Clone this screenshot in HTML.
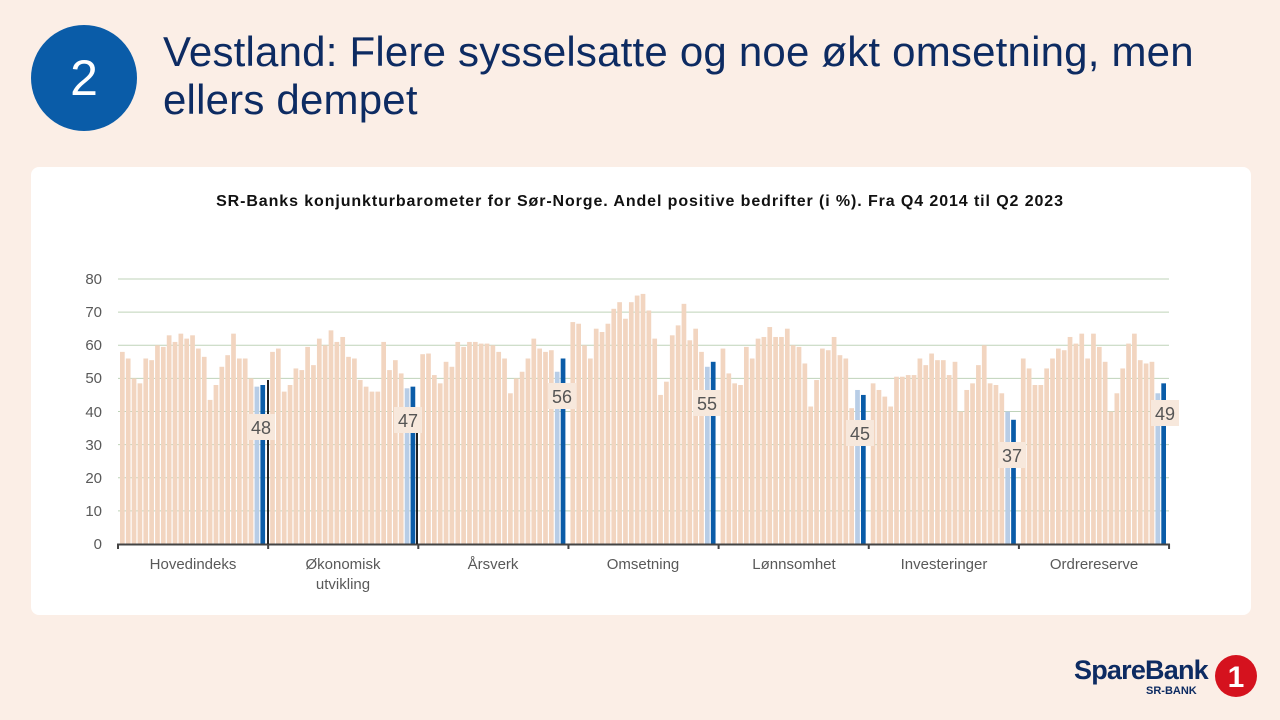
<!DOCTYPE html>
<html><head><meta charset="utf-8"><style>
body{margin:0;width:1280px;height:720px;background:#fbeee6;font-family:"Liberation Sans",sans-serif;overflow:hidden;position:relative}
.circ{position:absolute;left:31px;top:25px;width:106px;height:106px;border-radius:50%;background:#0a5ca8;color:#fff;font-size:50px;text-align:center;line-height:106px}
.h{position:absolute;left:163px;top:28px;font-size:42px;line-height:48px;color:#0d2b62;letter-spacing:0.2px}
.card{position:absolute;left:31px;top:167px;width:1220px;height:448px;background:#fff;border-radius:8px}
</style></head><body>
<div class="circ">2</div>
<div class="h">Vestland: Flere sysselsatte og noe økt omsetning, men<br>ellers dempet</div>
<div class="card"></div>
<svg id="s" width="1280" height="720" style="position:absolute;left:0;top:0" font-family="Liberation Sans, sans-serif">
<text x="640" y="206" text-anchor="middle" font-size="16" font-weight="bold" fill="#111" letter-spacing="0.9">SR-Banks konjunkturbarometer  for Sør-Norge.  Andel positive bedrifter (i %). Fra Q4 2014 til Q2 2023</text>
<g id="grid"></g><g id="bars"></g>
<g font-size="15" fill="#595959" text-anchor="end">
<text x="102" y="549">0</text><text x="102" y="516">10</text><text x="102" y="483">20</text><text x="102" y="450">30</text><text x="102" y="417">40</text><text x="102" y="383">50</text><text x="102" y="350">60</text><text x="102" y="317">70</text><text x="102" y="284">80</text>
</g>
<g font-size="15" fill="#595959" text-anchor="middle">
<text x="193" y="569">Hovedindeks</text><text x="343" y="569">Økonomisk</text><text x="343" y="589">utvikling</text><text x="493" y="569">Årsverk</text><text x="643" y="569">Omsetning</text><text x="794" y="569">Lønnsomhet</text><text x="944" y="569">Investeringer</text><text x="1094" y="569">Ordrereserve</text>
</g>
<line x1="268" y1="380" x2="268" y2="544" stroke="#222" stroke-width="2"/>
<line x1="417" y1="418" x2="417" y2="544" stroke="#222" stroke-width="2"/>
<g id="labs" font-size="18" fill="#555" text-anchor="middle"></g>
<g transform="translate(1074,652)">
<text x="0" y="27" font-size="27" font-weight="bold" fill="#0d2b62" letter-spacing="-0.8">SpareBank</text>
<text x="72" y="42" font-size="11" font-weight="bold" fill="#0d2b62">SR-BANK</text>
<circle cx="162" cy="24" r="21" fill="#d5121e"/>
<text x="162" y="35" font-size="30" font-weight="bold" fill="#fff" text-anchor="middle">1</text>
</g>
</svg>
<script>
var D=[
[58,56,50,48.5,56,55.5,60,59.5,63,61,63.5,62,63,59,56.5,43.5,48,53.5,57,63.5,56,56,50,47.5,48],
[58,59,46,48,53,52.5,59.5,54,62,60,64.5,61,62.5,56.5,56,49.5,47.5,46,46,61,52.5,55.5,51.5,47,47.5],
[57.3,57.5,51,48.5,55,53.5,61,59.5,61,61,60.5,60.5,60,58,56,45.5,50,52,56,62,59,58,58.5,52,56],
[67,66.5,60,56,65,64,66.5,71,73,68,73,75,75.5,70.5,62,45,49,63,66,72.5,61.5,65,58,53.5,55],
[59,51.5,48.5,48,59.5,56,62,62.5,65.5,62.5,62.5,65,60,59.5,54.5,41.5,49.5,59,58.5,62.5,57,56,41,46.5,45],
[48.5,46.5,44.5,41.5,50.5,50.5,51,51,56,54,57.5,55.5,55.5,51,55,40,46.5,48.5,54,60,48.5,48,45.5,40,37.5],
[56,53,48,48,53,56,59,58.5,62.5,60.5,63.5,56,63.5,59.5,55,40,45.5,53,60.5,63.5,55.5,54.5,55,45.5,48.5]];
var L=[[48,261,427],[47,408,420],[56,562,396],[55,707,403],[45,860,433],[37,1012,455],[49,1165,413]];
var s="";
for(var v=10;v<=80;v+=10){var y=544-v*3.3125;s+='<line x1="118" x2="1169" y1="'+y+'" y2="'+y+'" stroke="#bfd3b9" stroke-width="1"/>';}
document.getElementById('grid').innerHTML=s;s="";
for(var g=0;g<7;g++){var x0=118+150.15*g;for(var i=0;i<25;i++){var v=D[g][i],h=v*3.3125,c=i==24?'#0a5ca8':i==23?'#b8cde6':'#f2d5c0';s+='<rect x="'+(x0+2+i*5.85)+'" y="'+(544-h)+'" width="4.7" height="'+h+'" fill="'+c+'"/>';}}
s+='<line x1="117" x2="1170" y1="544.5" y2="544.5" stroke="#444" stroke-width="2"/>';
for(var g=0;g<=7;g++){var x=118+150.15*g;s+='<line x1="'+x+'" x2="'+x+'" y1="544" y2="549" stroke="#444" stroke-width="2"/>';}
document.getElementById('bars').innerHTML=s;s="";
L.forEach(function(l){s+='<rect x="'+(l[1]-14)+'" y="'+(l[2]-13)+'" width="28" height="26" fill="#f7e8dc"/><text x="'+l[1]+'" y="'+(l[2]+7)+'">'+l[0]+'</text>';});
document.getElementById('labs').innerHTML=s;
</script>
</body></html>
